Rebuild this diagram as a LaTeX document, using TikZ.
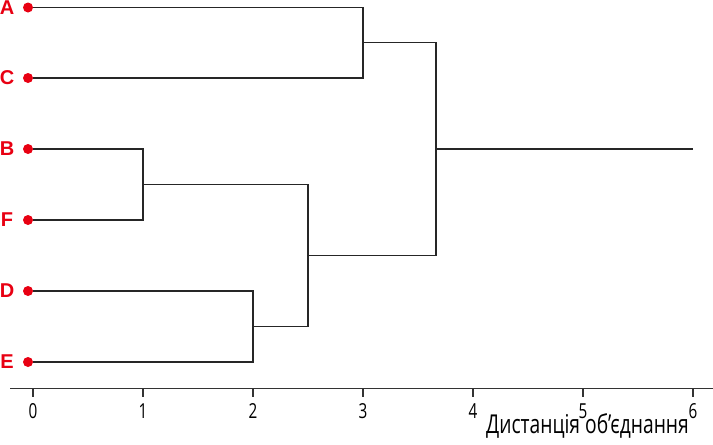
\documentclass[tikz,border=0pt]{standalone}
\usepackage{fontspec}
\setmainfont{Liberation Sans}
\newfontfamily\narrowfont[FakeStretch=0.74]{Open Sans}
\definecolor{leafred}{RGB}{232,0,18}
\begin{document}
\begin{tikzpicture}
[x=0.75pt,y=-0.75pt,
  leafdecorate/.style={shape=circle,inner sep=0pt,minimum size=7.5pt,fill=leafred},%
  labeldecorate/.style={text=leafred,font=\bfseries\fontsize{15}{16}\selectfont,inner sep=0pt},%
  linedecorate/.style={-,line width=0.8pt,black!85},%
  ticklabel/.style={font=\narrowfont\fontsize{15.5}{16}\selectfont,inner sep=0pt}]
\useasboundingbox (0,0) rectangle (713,444);
%% leaves
\foreach \leafname/\y in {A/7.5, C/78, B/149, F/220, D/291, E/362} {
  \node (\leafname) at (28,\y) [leafdecorate] {};
  \node (lbl\leafname) at (7,\y) [labeldecorate] {\leafname};
}
%% merge points
\coordinate (AC) at (363,42.5);
\coordinate (BF) at (143,184.5);
\coordinate (DE) at (253,326.5);
\coordinate (BFDE) at (308,255.5);
\coordinate (root) at (436,149);
\coordinate (tail) at (693,149);
%% branches
\path
\foreach \startnode/\endnode in {A/AC, C/AC, B/BF, F/BF, D/DE, E/DE, BF/BFDE, DE/BFDE, AC/root, BFDE/root} {
  (\startnode) edge[linedecorate,to path={-| (\tikztotarget)}] (\endnode)
};
\draw[linedecorate] (root) -- (tail);
%% axis
\coordinate (axisLeft) at (10,388.5);
\coordinate (axisRight) at (713,388.5);
\draw[line width=1pt,black!80] (axisLeft) -- (axisRight);
\foreach \t in {0,...,6} {
  \coordinate (tick\t) at (33+110*\t,388.5);
  \draw[line width=0.8pt,black!80] (tick\t) -- ++(0,8);
  \node (ticklbl\t) at (33+110*\t,411) [ticklabel] {\t};
}
\node (axistitle) at (587.5,433) [anchor=base,font=\narrowfont\fontsize{19.5}{20}\selectfont,inner sep=0pt] {Дистанція об’єднання};
\end{tikzpicture}
\end{document}
